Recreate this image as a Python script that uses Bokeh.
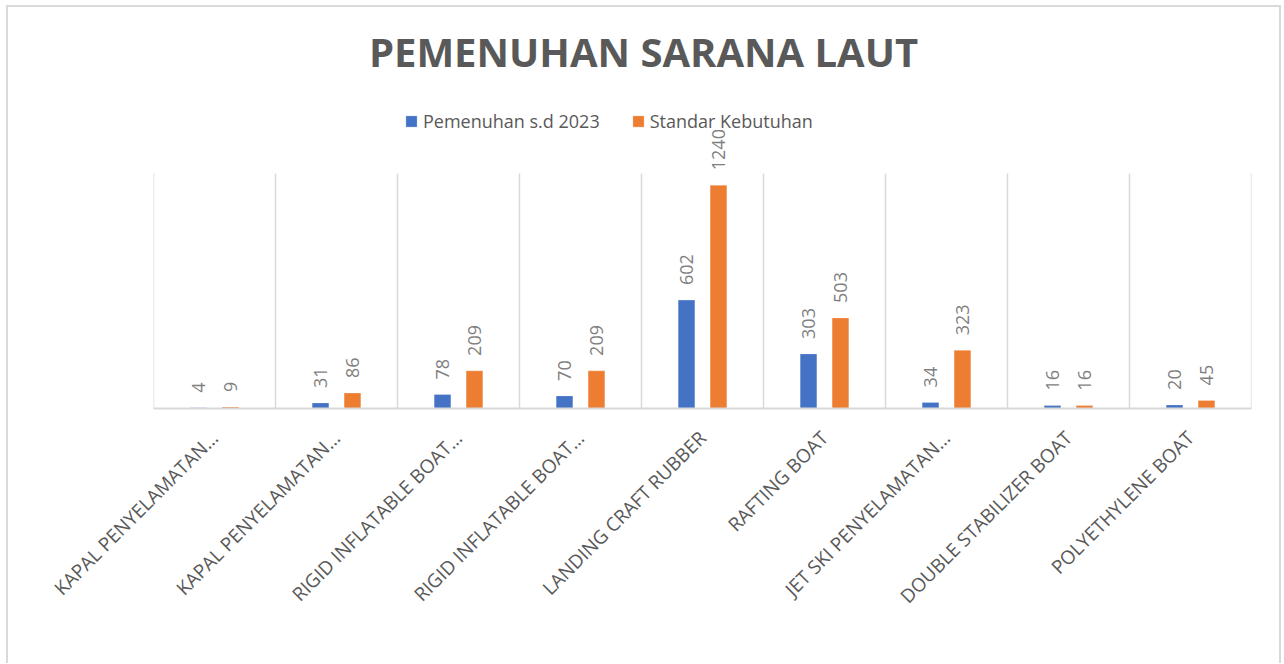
import math
from bokeh.plotting import figure
from bokeh.models import (ColumnDataSource, Range1d, FixedTicker, LabelSet, Label,
                          Legend, LegendItem)
from bokeh.core.properties import value
from bokeh.embed import file_html
from bokeh.resources import INLINE

categories = ["KAPAL PENYELAMATAN…", "KAPAL PENYELAMATAN…", "RIGID INFLATABLE BOAT…",
              "RIGID INFLATABLE BOAT…", "LANDING CRAFT RUBBER", "RAFTING BOAT",
              "JET SKI PENYELAMATAN…", "DOUBLE STABILIZER BOAT", "POLYETHYLENE BOAT"]
pemenuhan = [4, 31, 78, 70, 602, 303, 34, 16, 20]
standar = [9, 86, 209, 209, 1240, 503, 323, 16, 45]
series_names = ["Pemenuhan s.d 2023", "Standar Kebutuhan"]
title_text = "PEMENUHAN SARANA LAUT"

BLUE = "#4472C4"
ORANGE = "#ED7D31"
TXT = "#595959"
GRID = "#D9D9D9"
FONT = "Open Sans"

n = len(categories)
centers = [i + 0.5 for i in range(n)]
off = 0.131
bw = 0.137
plot_top = 1305          # top of the Excel plot area (value units)
frame_h = 401
y_top = plot_top * frame_h / 235

p = figure(frame_width=1098, frame_height=frame_h, output_backend="svg", toolbar_location=None,
           x_range=Range1d(0, n), y_range=Range1d(0, y_top),
           min_border_left=145, min_border_right=28, min_border_top=0, min_border_bottom=255)
p.styles = {"border": "2px solid #D9D9D9", "border-bottom": "none",
            "margin-left": "6px", "margin-top": "5px"}
p.background_fill_color = "white"
p.border_fill_color = "white"
p.outline_line_color = None

# category separators (vertical grid lines of the plot area)
bounds = list(range(n + 1))
p.segment(x0=bounds, x1=bounds, y0=[0] * len(bounds), y1=[plot_top] * len(bounds),
          line_color=GRID, line_width=1.5)

src1 = ColumnDataSource(dict(x=[c - off for c in centers], y=pemenuhan,
                             lbl=[str(v) for v in pemenuhan]))
src2 = ColumnDataSource(dict(x=[c + off for c in centers], y=standar,
                             lbl=[str(v) for v in standar]))

r1 = p.vbar(x="x", top="y", width=bw, source=src1, fill_color=BLUE,
            line_color="white", line_alpha=0.5, line_width=0.5)
r2 = p.vbar(x="x", top="y", width=bw, source=src2, fill_color=ORANGE,
            line_color="white", line_alpha=0.5, line_width=0.5)

for src in (src1, src2):
    ls = LabelSet(x="x", y="y", text="lbl", source=src, angle=math.pi / 2,
                  text_align="left", text_baseline="middle", y_offset=15,
                  text_color="#7F7F7F", text_font=value(FONT), text_font_size="18px")
    p.add_layout(ls)

# axes
p.yaxis.visible = False
p.ygrid.visible = False
p.xgrid.visible = False

ax = p.xaxis[0]
ax.ticker = FixedTicker(ticks=centers)
ax.major_label_overrides = {c: lab for c, lab in zip(centers, categories)}
ax.major_label_orientation = math.pi / 4
ax.major_label_text_font = FONT
ax.major_label_text_font_size = "19px"
ax.major_label_text_color = TXT
ax.major_label_standoff = 20
ax.major_tick_line_color = None
ax.minor_tick_line_color = None
ax.axis_line_color = GRID
ax.axis_line_width = 2

# title
p.add_layout(Label(x=490, y=357, x_units="screen", y_units="screen", text=title_text,
                   text_align="center", text_baseline="alphabetic",
                   text_font=FONT, text_font_style="bold", text_font_size="40px",
                   text_color=TXT))

legend = Legend(items=[LegendItem(label=series_names[0], renderers=[r1]),
                       LegendItem(label=series_names[1], renderers=[r2])],
                location=(251, 275), orientation="horizontal",
                glyph_width=14, glyph_height=14, label_standoff=5, spacing=31,
                padding=0, margin=0, border_line_color=None, background_fill_alpha=0,
                label_text_font=FONT, label_text_font_size="18px", label_text_color=TXT)
p.add_layout(legend)

open("out.html", "w").write(file_html(p, INLINE))
